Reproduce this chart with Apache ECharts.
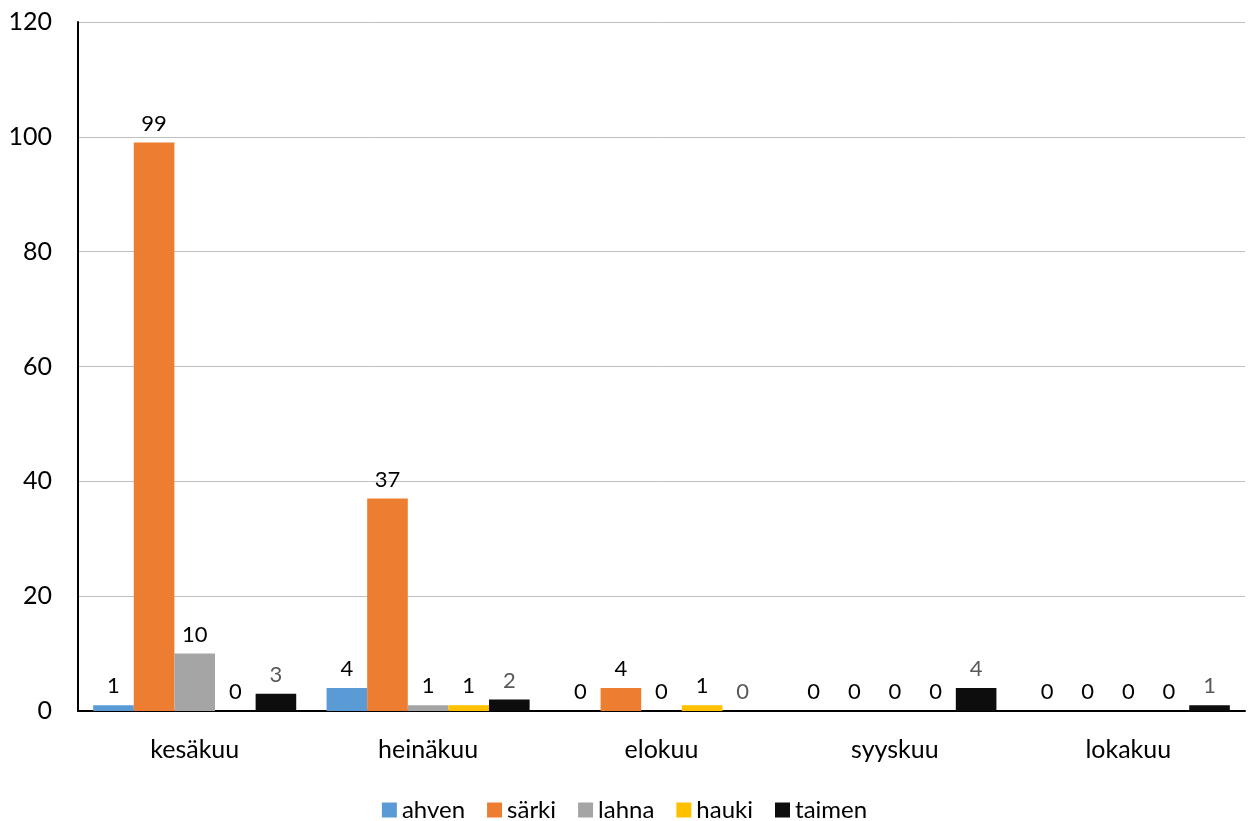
<!DOCTYPE html>
<html><head><meta charset="utf-8">
<script src="https://cdn.jsdelivr.net/npm/echarts@6/dist/echarts.min.js"></script>
<style>html,body{margin:0;padding:0;background:#fff}#c{width:1249px;height:821px}</style>
</head><body><div id="c"></div>
<script>
const categories = ['kesäkuu','heinäkuu','elokuu','syyskuu','lokakuu'];
const ahven = [1,4,0,0,0];
const sarki = [99,37,4,0,0];
const lahna = [10,1,0,0,0];
const hauki = [0,1,1,0,0];
const taimen = [3,2,0,4,1];
const seriesNames = ['ahven','särki','lahna','hauki','taimen'];
const colors = ['#5B9BD5','#ED7D31','#A5A5A5','#FFC000','#0D0D0D'];
const labelColors = ['#000','#000','#000','#000','#595959'];
const yTicks = [0,20,40,60,80,100,120];
const font = 'Lato, "Open Sans", sans-serif';
const chart = echarts.init(document.getElementById('c'));
const datas = [ahven, sarki, lahna, hauki, taimen];
chart.setOption({
  animation:false,
  textStyle:{fontFamily:font},
  grid:{left:78,right:4,top:22,bottom:110,containLabel:false},
  legend:{top:793,left:'center',itemWidth:15,itemHeight:15,itemGap:22,icon:'rect',
    textStyle:{fontSize:24,color:'#000',fontFamily:font},data:seriesNames},
  xAxis:{type:'category',data:categories,
    axisLine:{lineStyle:{color:'#000',width:2}},axisTick:{show:false},
    axisLabel:{fontSize:25,color:'#000',margin:26,fontFamily:font}},
  yAxis:{type:'value',min:yTicks[0],max:yTicks[yTicks.length-1],interval:20,
    axisLine:{show:true,lineStyle:{color:'#000',width:2}},axisTick:{show:false},
    splitLine:{lineStyle:{color:'#BFBFBF',width:1}},
    axisLabel:{fontSize:25,color:'#000',margin:26,fontFamily:font}},
  series: datas.map((d,i)=>({
    name:seriesNames[i],type:'bar',data:d,barGap:'0%',barCategoryGap:'13%',
    itemStyle:{color:colors[i]},
    label:{show:true,position:'top',distance:8,fontSize:22,color:labelColors[i],fontFamily:font}
  }))
});
</script></body></html>
